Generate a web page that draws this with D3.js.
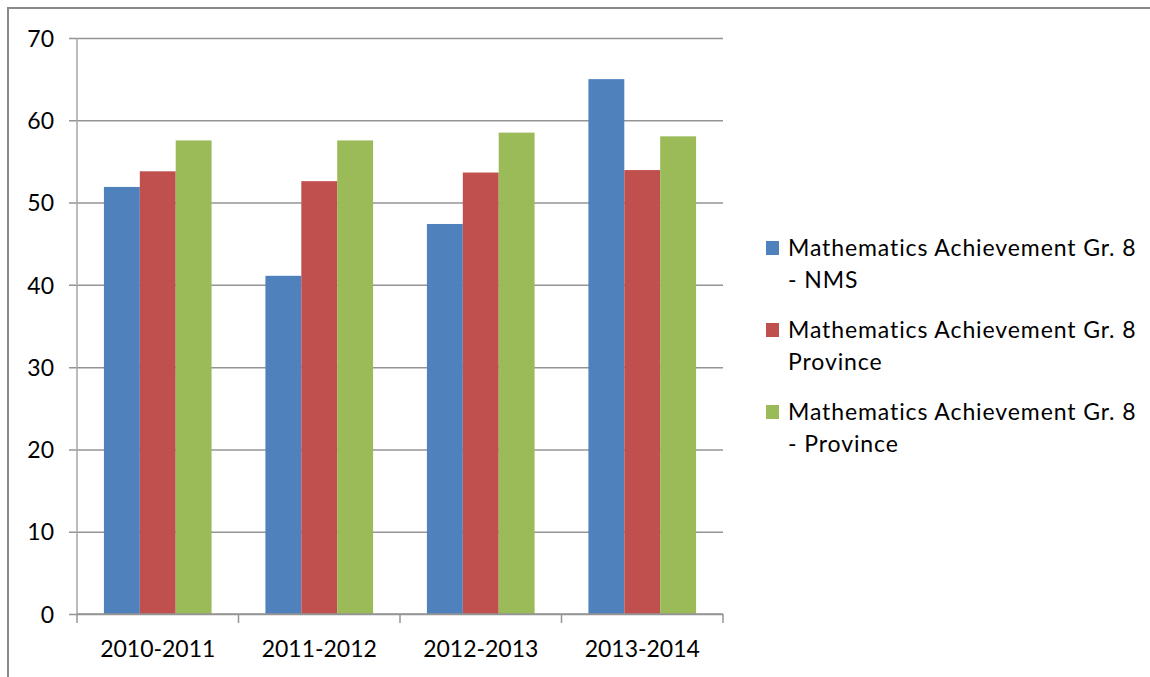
<!DOCTYPE html>
<html>
<head>
<meta charset="utf-8">
<script src="https://cdn.jsdelivr.net/npm/d3@7"></script>
<style>
  html, body { margin: 0; padding: 0; background: #fff; }
  svg { display: block; }
  text { font-family: Lato, "Open Sans", sans-serif; fill: #000; font-variant-ligatures: none; }
</style>
</head>
<body>
<svg id="chart" width="1150" height="677"></svg>
<script>
const categories = ["2010-2011", "2011-2012", "2012-2013", "2013-2014"];
const seriesNames = [
  ["Mathematics Achievement Gr. 8", "- NMS"],
  ["Mathematics Achievement Gr. 8", "Province"],
  ["Mathematics Achievement Gr. 8", "- Province"]
];
const seriesNMS = [51.9, 41.1, 47.4, 65.0];
const seriesProvince = [53.8, 52.6, 53.65, 53.95];
const seriesProvince2 = [57.55, 57.55, 58.5, 58.05];
const yTicks = [0, 10, 20, 30, 40, 50, 60, 70];
const colors = ["#4F81BD", "#C0504D", "#9BBB59"];

(function () {
const allSeries = [seriesNMS, seriesProvince, seriesProvince2];

const svg = d3.select("#chart");
const W = 1150, H = 677;

// outer frame
svg.append("rect")
  .attr("x", 8).attr("y", 8)
  .attr("width", W + 20).attr("height", H + 20)
  .attr("fill", "none").attr("stroke", "#8a8a8a").attr("stroke-width", 2);

const pLeft = 77, pRight = 723, pTop = 38, pBottom = 614;

const x0 = d3.scaleBand().domain(categories).range([pLeft, pRight]).paddingInner(0).paddingOuter(0);
const x1 = d3.scaleBand().domain(d3.range(3)).range([0, x0.bandwidth()]).paddingInner(0).paddingOuter(0.75);
const y = d3.scaleLinear().domain([0, 70]).range([pBottom, pTop]);

// gridlines
const yAxis = d3.axisLeft(y).tickValues(yTicks).tickSize(-(pRight - pLeft)).tickPadding(16).tickSizeOuter(0);
const gy = svg.append("g").attr("transform", `translate(${pLeft},0)`).call(yAxis);
gy.select(".domain").remove();
gy.selectAll(".tick line")
  .attr("x1", -8)
  .attr("stroke", "#949494").attr("stroke-width", 1.5);
gy.selectAll(".tick text")
  .attr("font-size", 23).attr("font-family", "Lato, sans-serif").attr("fill", "#000")
  .attr("x", -23).attr("dy", "0.36em");

// y axis line
svg.append("line")
  .attr("x1", pLeft).attr("x2", pLeft).attr("y1", pTop).attr("y2", pBottom)
  .attr("stroke", "#a6a6a6").attr("stroke-width", 1.5);

// bars
const groups = svg.append("g").selectAll("g")
  .data(categories)
  .join("g")
  .attr("transform", d => `translate(${x0(d)},0)`);

groups.selectAll("rect")
  .data((d, i) => allSeries.map((s, k) => ({ k, v: s[i] })))
  .join("rect")
  .attr("x", d => x1(d.k))
  .attr("width", x1.bandwidth())
  .attr("y", d => y(d.v))
  .attr("height", d => y(0) - y(d.v))
  .attr("fill", d => colors[d.k]);

// x axis
const xAxis = d3.axisBottom(x0).tickSize(0).tickPadding(0);
const gx = svg.append("g").attr("transform", `translate(0,${pBottom})`).call(xAxis);
gx.select(".domain").attr("stroke", "#949494").attr("stroke-width", 1.5)
  .attr("d", `M${pLeft},0H${pRight}`);
gx.selectAll(".tick text")
  .attr("font-size", 23).attr("font-family", "Lato, sans-serif").attr("fill", "#000")
  .attr("y", 43).attr("dy", 0);
// category boundary ticks
const bounds = categories.map(c => x0(c)).concat([pRight]);
svg.append("g").selectAll("line").data(bounds).join("line")
  .attr("x1", d => d).attr("x2", d => d)
  .attr("y1", pBottom).attr("y2", pBottom + 9)
  .attr("stroke", "#949494").attr("stroke-width", 1.5);

// legend
const legend = svg.append("g");
const entryY = [256, 338, 420];
seriesNames.forEach((lines, k) => {
  legend.append("rect")
    .attr("x", 766).attr("y", entryY[k] - 15)
    .attr("width", 13).attr("height", 14)
    .attr("fill", colors[k]);
  lines.forEach((t, j) => {
    legend.append("text")
      .attr("x", 788).attr("y", entryY[k] + j * 32)
      .attr("font-size", 23)
      .attr("letter-spacing", 0.9)
      .text(t);
  });
});
})();
</script>
</body>
</html>
